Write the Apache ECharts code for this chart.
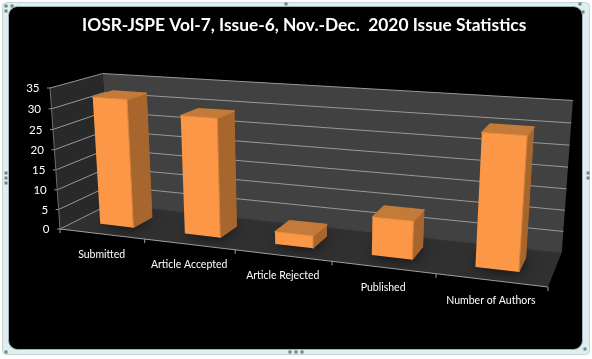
<!DOCTYPE html>
<html><head><meta charset="utf-8">
<style>html,body{margin:0;padding:0;background:#fff}#c{width:592px;height:359px}</style>
<script src="https://cdn.jsdelivr.net/npm/echarts@6/dist/echarts.min.js"></script>
</head><body><div id="c"></div>
<script>
var titleText = 'IOSR-JSPE Vol-7, Issue-6, Nov.-Dec.  2020 Issue Statistics';
var categories = ['Submitted', 'Article Accepted', 'Article Rejected', 'Published', 'Number of Authors'];
var values = [32, 29, 3, 9, 30];
var yTicks = [0, 5, 10, 15, 20, 25, 30, 35];
var FONT = 'Lato, "Noto Sans", sans-serif';

// Perspective camera fitted to the box corners; s across, d into depth, z up (all 0..1)
var CAM = {x0:60, y0:229, ax:[400.3,12.08], ad:[59.35,-7.66], az:[-11.9,-144.4], p:-0.16, q:0.085, r:-0.0387};
function proj(s, d, z) {
  var w = 1 + CAM.p*s + CAM.q*d + CAM.r*z;
  return [(CAM.x0 + CAM.ax[0]*s + CAM.ad[0]*d + CAM.az[0]*z)/w,
          (CAM.y0 + CAM.ax[1]*s + CAM.ad[1]*d + CAM.az[1]*z)/w];
}
function poly(points, style, extra) {
  var o = {type:'polygon', shape:{points:points}, style:style, silent:true};
  for (var k in extra) o[k] = extra[k];
  return o;
}
function line(a, b, color, width) {
  return {type:'line', shape:{x1:a[0],y1:a[1],x2:b[0],y2:b[1]}, style:{stroke:color, lineWidth:width||1, fill:null}, silent:true};
}
function unit(params, api, cat, val) {
  var r = params.coordSys, c = api.coord([cat, val]);
  return {s:(c[0]-r.x)/r.width, z:(r.y+r.height-c[1])/r.height, band:api.size([1,0])[0]/r.width};
}
function renderWalls() {
  return {type:'group', children:[
    poly([proj(0,0,0),proj(1,0,0),proj(1,1,0),proj(0,1,0)], {fill:'#303030'}),
    poly([proj(0,1,0),proj(1,1,0),proj(1,1,1),proj(0,1,1)], {fill:'#414141'}),
    poly([proj(0,0,0),proj(0,1,0),proj(0,1,1),proj(0,0,1)], {fill:'#292929'})
  ]};
}
function renderGrid(params, api) {
  var z = unit(params, api, 0, api.value(0)).z, kids = [];
  var a = proj(0,0,z), b = proj(0,1,z), c = proj(1,1,z);
  kids.push(line(a,b,'#969696'));
  kids.push(line(b,c,z===0?'#414141':'#989898'));
  kids.push(line([a[0]-3,a[1]],a,'#9a9a9a'));
  kids.push({type:'text', x:a[0]-10.5, y:a[1]+0.5, silent:true, style:{text:String(api.value(0)), fill:'#fff',
    font:'11.5px '+FONT, textAlign:'right', textVerticalAlign:'middle'}});
  return {type:'group', children:kids};
}
function renderAxes(params, api) {
  var u = unit(params, api, api.value(0), 0), i = params.dataIndex, kids = [], s0 = u.s - u.band/2, s1 = u.s + u.band/2;
  var p0 = proj(s0,0,0), p1 = proj(s1,0,0);
  kids.push(line(p0,p1,'#a0a0a0'));
  kids.push(line(p1,[p1[0],p1[1]+4],'#a0a0a0'));
  if (i === 0) {
    kids.push(line(p0,[p0[0],p0[1]+4],'#a0a0a0'));
    kids.push(line(p0,proj(0,0,1),'#6e6e6e'));
  }
  var m = proj(u.s,0,0);
  kids.push({type:'text', x:m[0], y:m[1]+20.5, silent:true, style:{text:categories[i], fill:'#fff',
    font:'10.5px '+FONT, textAlign:'center', textVerticalAlign:'middle'}});
  return {type:'group', children:kids};
}
function renderBar(params, api) {
  var u = unit(params, api, api.value(0), api.value(1)), w = u.band*0.2;
  var s0 = u.s-w, s1 = u.s+w, d0 = 0.3, d1 = 0.7, z = u.z, kids = [];
  kids.push(poly([proj(s0,d0,0),proj(s1,d0,0),proj(s1+.002,d1,0),proj(s0,d1,0)],
    {fill:'#000', opacity:0.8, shadowBlur:14, shadowColor:'#000'}));
  kids.push(poly([proj(s1,d0,0),proj(s1,d1,0),proj(s1,d1,z),proj(s1,d0,z)],
    {fill:'#a8662f', stroke:'#a8662f', lineWidth:1, lineJoin:'round'}));
  kids.push(poly([proj(s0,d0,z),proj(s1,d0,z),proj(s1,d1,z),proj(s0,d1,z)],
    {fill:'#c47a38', stroke:'#c47a38', lineWidth:1.5, lineJoin:'round'}));
  kids.push(poly([proj(s0,d0,0),proj(s1,d0,0),proj(s1,d0,z),proj(s0,d0,z)], {fill:'#fb9746'}));
  kids.push(line(proj(s1,d0,0),proj(s1,d0,z),'#d98439'));
  kids.push(line(proj(s0,d0,z),proj(s1,d0,z),'#e58e42'));
  return {type:'group', children:kids};
}
function data1(a){return a.map(function(v){return [v];});}

var chart = echarts.init(document.getElementById('c'), null, {renderer:'canvas'});
chart.setOption({
  animation:false,
  backgroundColor:'#fff',
  title:{text:titleText, left:82, top:17, textStyle:{color:'#fff', fontFamily:FONT, fontWeight:'bold', fontSize:17.35}, padding:0, z:20},
  grid:{left:60, right:44, top:88, bottom:130},
  xAxis:{type:'category', data:categories, show:false},
  yAxis:{type:'value', min:0, max:35, interval:5, show:false},
  graphic:[
    {type:'rect', z:-10, silent:true, shape:{x:2.5,y:2.5,width:587,height:352,r:4}, style:{fill:'#dfeff1', stroke:'#c4d2d4', lineWidth:1}},
    {type:'rect', z:-9, silent:true, shape:{x:8.5,y:6.5,width:574,height:343,r:9}, style:{fill:'#000', stroke:'#9fb2b5', lineWidth:1}}
  ].concat([[6,6],[12,6],[6,11],[580,4],[286,4],[583,12],[6,173],[6,178],[6,183],[588,173],[588,178],[585,349],[290,352],[296,352],[302,352],[6,352]].map(function(p){
    return {type:'rect', z:-8, silent:true, shape:{x:p[0]-1.5,y:p[1]-1.5,width:3,height:3}, style:{fill:'#6f8286'}};
  })),
  series:[
    {type:'custom', coordinateSystem:'cartesian2d', z:1, silent:true, data:[[0,0]], renderItem:renderWalls, clip:false},
    {type:'custom', coordinateSystem:'cartesian2d', z:2, silent:true, data:data1(yTicks), encode:{y:0}, renderItem:renderGrid, clip:false},
    {type:'custom', coordinateSystem:'cartesian2d', z:3, silent:true, data:categories.map(function(c,i){return [i,0];}), encode:{x:0,y:1}, renderItem:renderAxes, clip:false},
    {type:'custom', coordinateSystem:'cartesian2d', z:4, silent:true, data:values.map(function(v,i){return [i,v];}), encode:{x:0,y:1}, renderItem:renderBar, clip:false}
  ]
});
</script></body></html>
